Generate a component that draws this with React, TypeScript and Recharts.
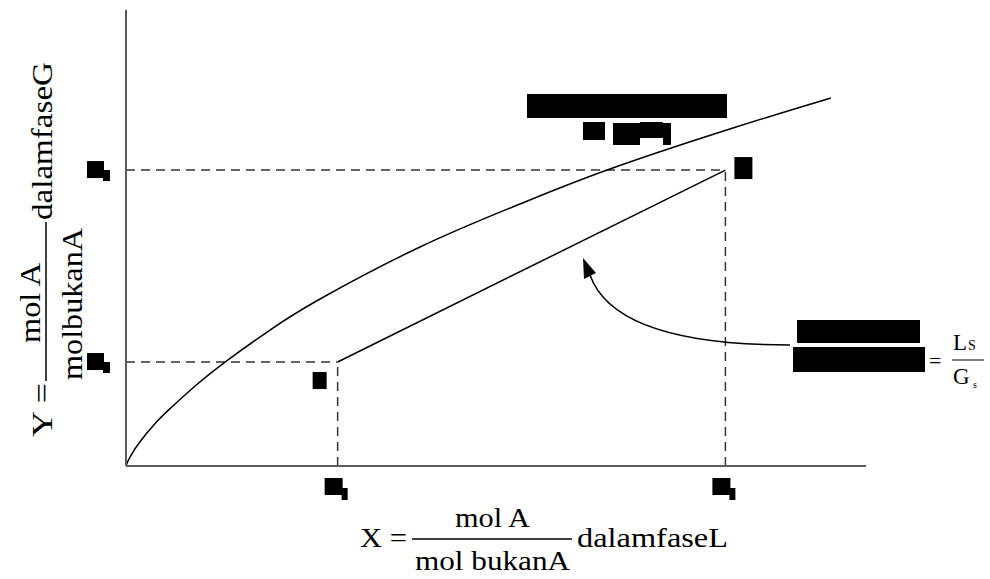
import React from 'react';
import { ComposedChart, Line, XAxis, YAxis, ReferenceLine, ReferenceDot } from 'recharts';

// Equilibrium curve
const eqX = [0, 0.027, 0.068, 0.189, 0.405, 0.595, 0.946, 1.338, 1.946, 2.622, 3.973, 5.324, 6.54, 8.203, 9.527];
const eqY = [0, 0.11, 0.235, 0.531, 0.952, 1.259, 1.772, 2.28, 2.982, 3.662, 4.803, 5.746, 6.513, 7.412, 8.07];

// Operating line end points
const X1 = 2.86;
const X2 = 8.1;
const Y1 = 2.28;
const Y2 = 6.49;

const xTicks = [X1, X2];
const yTicks = [Y1, Y2];

const eqCurve = eqX.map((x, i) => ({ x, y: eqY[i] }));
const opLine = [
  { x: X1, y: Y1 },
  { x: X2, y: Y2 },
];

const SERIF = '"Liberation Serif", "DejaVu Serif", serif';

const XBoxTick = (props: any) => {
  const { x, y } = props;
  return (
    <g>
      <rect x={x - 13} y={y + 12} width={18} height={17} fill="#000" />
      <rect x={x + 4} y={y + 22} width={6} height={12} fill="#000" />
    </g>
  );
};

const YBoxTick = (props: any) => {
  const { x, y } = props;
  return (
    <g>
      <rect x={x - 39} y={y - 9} width={17} height={17} fill="#000" />
      <rect x={x - 23} y={y} width={7} height={11} fill="#000" />
    </g>
  );
};

const dash = { stroke: '#333', strokeWidth: 1.5, strokeDasharray: '9 6' };

export default function App() {
  return (
    <div style={{ position: 'absolute', left: 0, top: 0, width: 990, height: 579, background: '#fff' }}>
      <ComposedChart
        width={990}
        height={579}
        margin={{ top: 10, right: 124, bottom: 112, left: 125 }}
      >
        <XAxis
          type="number"
          dataKey="x"
          domain={[0, 10]}
          ticks={xTicks}
          tick={<XBoxTick />}
          tickLine={false}
          tickSize={0}
          tickMargin={0}
          height={1}
          interval={0}
          axisLine={{ stroke: '#5a5a5a', strokeWidth: 2 }}
        />
        <YAxis
          type="number"
          dataKey="y"
          domain={[0, 10]}
          ticks={yTicks}
          tick={<YBoxTick />}
          tickLine={false}
          tickSize={0}
          tickMargin={0}
          width={1}
          interval={0}
          axisLine={{ stroke: '#5a5a5a', strokeWidth: 2 }}
        />
        <ReferenceLine segment={[{ x: 0, y: Y1 }, { x: X1, y: Y1 }]} {...dash} />
        <ReferenceLine segment={[{ x: 0, y: Y2 }, { x: X2, y: Y2 }]} {...dash} />
        <ReferenceLine segment={[{ x: X1, y: 0 }, { x: X1, y: Y1 }]} {...dash} />
        <ReferenceLine segment={[{ x: X2, y: 0 }, { x: X2, y: Y2 }]} {...dash} />
        <Line
          data={eqCurve}
          dataKey="y"
          type="natural"
          dot={false}
          stroke="#000"
          strokeWidth={1.5}
          isAnimationActive={false}
        />
        <Line
          data={opLine}
          dataKey="y"
          type="linear"
          dot={false}
          stroke="#000"
          strokeWidth={1.5}
          isAnimationActive={false}
        />
        <ReferenceDot
          x={X1}
          y={Y1}
          r={0}
          shape={(p: any) => <rect x={p.cx - 25} y={p.cy + 10} width={14} height={17} fill="#000" />}
        />
        <ReferenceDot
          x={X2}
          y={Y2}
          r={0}
          shape={(p: any) => <rect x={p.cx + 9} y={p.cy - 13} width={18} height={22} fill="#000" />}
        />
      </ComposedChart>
      <svg
        width={990}
        height={579}
        style={{ position: 'absolute', left: 0, top: 0, pointerEvents: 'none' }}
        fontFamily={SERIF}
      >
        {/* curve label */}
        <rect x={527} y={94} width={200} height={24} fill="#000" />
        <rect x={583} y={122} width={22} height={18} fill="#000" />
        <rect x={613} y={123} width={27} height={22} fill="#000" />
        <rect x={640} y={122} width={23} height={16} fill="#000" />
        <rect x={663} y={123} width={8} height={22} fill="#000" />

        {/* slope label */}
        <rect x={797} y={320} width={123} height={23} fill="#000" />
        <rect x={793} y={347} width={132} height={25} fill="#000" />
        <text x={929} y={368} fontSize={22} fill="#000">=</text>
        <line x1={952} y1={360} x2={984} y2={360} stroke="#000" strokeWidth={1} />
        <text x={953} y={350} fontSize={23} fill="#000">L</text>
        <text x={968} y={350} fontSize={14} fill="#000">S</text>
        <text x={953} y={384} fontSize={23} fill="#000">G</text>
        <text x={973} y={388} fontSize={10} fill="#000">s</text>

        {/* arrow */}
        <path d="M790,345 Q615,345 590,275" fill="none" stroke="#000" strokeWidth={1.5} />
        <polygon points="583,258 596,273 584,279" fill="#000" />

        {/* x axis title */}
        <text x={360} y={547} fontSize={28} fill="#000" textLength={47} lengthAdjust="spacingAndGlyphs">X =</text>
        <line x1={412} y1={539} x2={572} y2={539} stroke="#000" strokeWidth={1.5} />
        <text x={455} y={527} fontSize={28} fill="#000" textLength={75} lengthAdjust="spacingAndGlyphs">mol A</text>
        <text x={415} y={570} fontSize={28} fill="#000" textLength={155} lengthAdjust="spacingAndGlyphs">mol bukanA</text>
        <text x={577} y={547} fontSize={28} fill="#000" textLength={151} lengthAdjust="spacingAndGlyphs">dalamfaseL</text>

        {/* y axis title */}
        <text x={0} y={0} transform="translate(52,437) rotate(-90)" fontSize={30} fill="#000" textLength={54} lengthAdjust="spacingAndGlyphs">Y =</text>
        <line x1={46} y1={381} x2={46} y2={222} stroke="#000" strokeWidth={1.5} />
        <text x={0} y={0} transform="translate(40,343) rotate(-90)" fontSize={30} fill="#000" textLength={80} lengthAdjust="spacingAndGlyphs">mol A</text>
        <text x={0} y={0} transform="translate(82,380) rotate(-90)" fontSize={30} fill="#000" textLength={152} lengthAdjust="spacingAndGlyphs">molbukanA</text>
        <text x={0} y={0} transform="translate(52,220) rotate(-90)" fontSize={30} fill="#000" textLength={158} lengthAdjust="spacingAndGlyphs">dalamfaseG</text>
      </svg>
    </div>
  );
}
